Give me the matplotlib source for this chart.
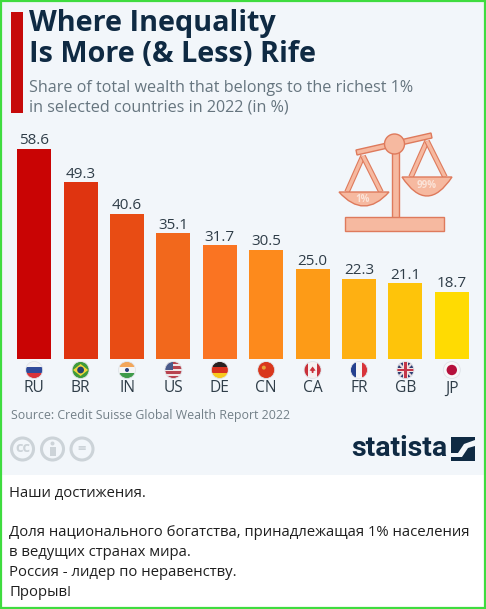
import matplotlib
matplotlib.use('Agg')
import matplotlib.pyplot as plt
from matplotlib.patches import Rectangle, Circle, Polygon, PathPatch
from matplotlib.path import Path

countries = ['RU', 'BR', 'IN', 'US', 'DE', 'CN', 'CA', 'FR', 'GB', 'JP']
shares = [58.6, 49.3, 40.6, 35.1, 31.7, 30.5, 25.0, 22.3, 21.1, 18.7]
bar_colors = ['#c90404', '#df3410', '#e84c14', '#f2681c', '#fa7422',
              '#fd8a1c', '#fd9b17', '#feb012', '#fec40a', '#ffdb02']

title_lines = ['Where Inequality', 'Is More (& Less) Rife']
subtitle_lines = ['Share of total wealth that belongs to the richest 1%',
                  'in selected countries in 2022 (in %)']
source = 'Source: Credit Suisse Global Wealth Report 2022'
post_lines = ['Наши достижения.', '',
              'Доля национального богатства, принадлежащая 1% населения',
              'в ведущих странах мира.',
              'Россия - лидер по неравенству.',
              'Прорыв!']

W, H = 486, 609
NAVY = '#0f2a43'
GREY = '#66757f'
BG = '#f2f6fa'

plt.rcParams['font.family'] = ['Open Sans', 'DejaVu Sans']
fig = plt.figure(figsize=(W / 100, H / 100), dpi=100, facecolor='white')

# overlay in pixel coordinates for everything that is not a bar
bg = fig.add_axes([0, 0, 1, 1], zorder=0)
bg.set_xlim(0, W)
bg.set_ylim(H, 0)
bg.axis('off')
bg.add_patch(Rectangle((2, 2), W - 4, 473, fc=BG, ec='none'))
bg.add_patch(Rectangle((1, 1), W - 2, H - 2, fc='none', ec='#3fdc3f', lw=1.6))

# header
bg.add_patch(Rectangle((11, 12), 12, 101, fc='#c60a0a', ec='none'))
for y, line in zip([24, 55], title_lines):
    bg.text(29, y, line, fontsize=20.7, fontweight='bold', color=NAVY, va='center')
for y, line in zip([88, 107], subtitle_lines):
    bg.text(29, y, line, fontsize=11.6, color=GREY, va='center')

# bars
ax = fig.add_axes([11 / W, 1 - 359 / H, 464 / W, 210 / H], zorder=1)
ax.bar(range(len(shares)), shares, width=0.73, color=bar_colors)
ax.set_xlim(-0.5, 9.5)
ax.set_ylim(0, 58.6)
ax.axis('off')
for i, v in enumerate(shares):
    ax.annotate(f'{v:.1f}', (i, v), xytext=(0, 0.5), textcoords='offset points',
                ha='center', va='bottom', fontsize=11, color='#2f3d48',
                annotation_clip=False)


# flags
def flag(cx, draw, r=8.5, cy=370):
    clip = Circle((cx, cy), r, transform=bg.transData)
    for p in draw(cx - r, cy - r, 2 * r):
        bg.add_patch(p)
        p.set_clip_path(clip)
    bg.add_patch(Circle((cx, cy), r, fc='none', ec='#dfe3e8', lw=0.6))


def stripes_h(cols):
    def f(x, y, s):
        return [Rectangle((x, y + i * s / len(cols)), s, s / len(cols), fc=c, ec='none')
                for i, c in enumerate(cols)]
    return f


def stripes_v(cols):
    def f(x, y, s):
        return [Rectangle((x + i * s / len(cols), y), s / len(cols), s, fc=c, ec='none')
                for i, c in enumerate(cols)]
    return f


def brazil(x, y, s):
    c = (x + s / 2, y + s / 2)
    return [Rectangle((x, y), s, s, fc='#3f9b3a', ec='none'),
            Polygon([(x + 1, c[1]), (c[0], y + 2.5), (x + s - 1, c[1]), (c[0], y + s - 2.5)],
                    fc='#f4d63a', ec='none'),
            Circle(c, 3.4, fc='#24406e', ec='none')]


def india(x, y, s):
    return stripes_h(['#f2a65a', '#f4f4f4', '#3f9b4a'])(x, y, s) + \
        [Circle((x + s / 2, y + s / 2), 2.0, fc='#2a3f7a', ec='none')]


def usa(x, y, s):
    out = [Rectangle((x, y + i * s / 7), s, s / 7, fc='#b8434f' if i % 2 == 0 else '#f1e6e6', ec='none')
           for i in range(7)]
    out.append(Rectangle((x, y), s * 0.5, s * 0.5, fc='#4a5a8a', ec='none'))
    return out


def china(x, y, s):
    return [Rectangle((x, y), s, s, fc='#d9381e', ec='none'),
            Circle((x + s * 0.36, y + s * 0.36), 2.0, fc='#e8a33a', ec='none')]


def canada(x, y, s):
    cx, cy = x + s / 2, y + s / 2
    return stripes_v(['#c9303a', '#f6f0f0', '#f6f0f0', '#c9303a'])(x, y, s) + \
        [Polygon([(cx, cy - 3.5), (cx + 3, cy + 0.5), (cx + 1, cy + 1), (cx + 0.8, cy + 3),
                  (cx - 0.8, cy + 3), (cx - 1, cy + 1), (cx - 3, cy + 0.5)],
                 fc='#c9303a', ec='none')]


def britain(x, y, s):
    out = [Rectangle((x, y), s, s, fc='#2e3f73', ec='none')]
    for a, b in [((x, y), (x + s, y + s)), ((x + s, y), (x, y + s))]:
        out.append(PathPatch(Path([a, b]), ec='#e9d9dc', lw=1.6, fc='none'))
    out.append(Rectangle((x, y + s * 0.36), s, s * 0.28, fc='#f0e6e6', ec='none'))
    out.append(Rectangle((x + s * 0.36, y), s * 0.28, s, fc='#f0e6e6', ec='none'))
    out.append(Rectangle((x, y + s * 0.43), s, s * 0.14, fc='#c4384a', ec='none'))
    out.append(Rectangle((x + s * 0.43, y), s * 0.14, s, fc='#c4384a', ec='none'))
    return out


def japan(x, y, s):
    return [Rectangle((x, y), s, s, fc='#f7f7f9', ec='none'),
            Circle((x + s / 2, y + s / 2), 5.2, fc='#b5103c', ec='none')]


flag_draw = [stripes_h(['#f2f2f4', '#2f4a9a', '#d8333a']), brazil, india, usa,
             stripes_h(['#2a2020', '#d9301e', '#f7c81e']), china, canada,
             stripes_v(['#24408e', '#f4f4f4', '#d8333a']), britain, japan]
for i, (code, draw) in enumerate(zip(countries, flag_draw)):
    cx = 34.2 + i * 46.4
    flag(cx, draw)
    bg.text(cx, 388.5, code, ha='center', va='center', fontsize=11.2, color='#2f3d48')

# source + cc icons
bg.text(11, 415, source, fontsize=8.95, color='#738088', va='center')
for cx, s in zip([22.5, 52.5, 82], ['cc', '', '=']):
    bg.add_patch(Circle((cx, 449), 11, fc='none', ec='#ccd3d8', lw=2.2))
    if s:
        bg.text(cx, 448.5, s, ha='center', va='center', fontsize=10.5, fontweight='bold', color='#ccd3d8')
bg.add_patch(Circle((52.5, 443.5), 2, fc='#ccd3d8', ec='none'))
bg.add_patch(Rectangle((49.5, 446.5), 6, 9, fc='#ccd3d8', ec='none'))

# balance scale icon
FILL = '#f6b9a0'
EDGE = '#de7a5c'
def pan(x0, x1, y_top, y_bot):
    mid = (x0 + x1) / 2
    verts = [(x0, y_top), (mid, 2 * y_bot - y_top), (x1, y_top), (x0, y_top)]
    return PathPatch(Path(verts, [Path.MOVETO, Path.CURVE3, Path.CURVE3, Path.CLOSEPOLY]),
                     fc=FILL, ec=EDGE, lw=1.0, zorder=3)

for a, b in [((363, 156), (347, 192)), ((363, 156), (381, 192)),
             ((427, 141), (411, 177)), ((427, 141), (445, 177))]:
    bg.plot(*zip(a, b), color=EDGE, lw=4.0, zorder=2, solid_capstyle='butt')
    bg.plot(*zip(a, b), color=FILL, lw=2.4, zorder=2, solid_capstyle='butt')
bg.add_patch(pan(339, 389, 192, 206))
bg.add_patch(pan(402, 452, 177, 196))
bg.add_patch(Rectangle((392, 146), 6.5, 72, fc=FILL, ec=EDGE, lw=1.0, zorder=3))
bg.add_patch(Rectangle((345, 217), 99, 14, fc=FILL, ec=EDGE, lw=1.0, zorder=3))
bg.add_patch(Polygon([(356, 150), (431, 133), (432, 138), (357, 155)], fc=FILL, ec=EDGE, lw=1.0, zorder=3))
bg.add_patch(Circle((394.5, 144), 10, fc=FILL, ec=EDGE, lw=1.0, zorder=4))
bg.text(363, 199, '1%', ha='center', va='center', fontsize=7, fontweight='bold', color='#fbe3d8', zorder=5)
bg.text(427, 185, '99%', ha='center', va='center', fontsize=7, fontweight='bold', color='#fbe3d8', zorder=5)

# statista logo
bg.text(351, 449, 'statista', fontsize=20.5, fontweight='bold', color=NAVY, va='center',
        family=['Roboto', 'Open Sans'])
bg.add_patch(Rectangle((451, 437), 24, 24, fc=NAVY, ec='none'))
bg.add_patch(Polygon([(451, 453), (458, 453), (464, 444), (475, 440), (475, 446), (468, 448), (462, 457), (451, 457)],
                     fc=BG, ec='none'))

# post text below the picture
for y, line in zip([493, 513, 533, 553, 573, 593], post_lines):
    bg.text(9, y, line, fontsize=10.7, color='#1f1f1f', va='center')

fig.savefig('out.png', dpi=100)
